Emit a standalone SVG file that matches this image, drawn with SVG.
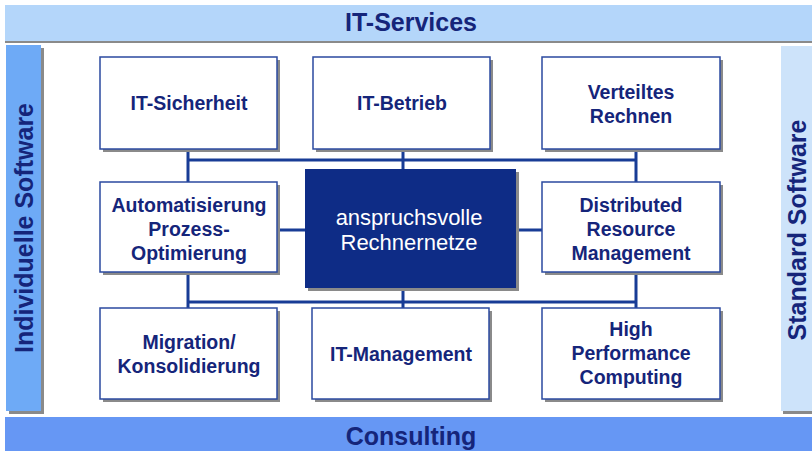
<svg xmlns="http://www.w3.org/2000/svg" width="812" height="451" viewBox="0 0 812 451">
<style>
.lbl{font-family:"Liberation Sans",Arial,sans-serif;font-weight:bold;font-size:19.5px;fill:#15257a;text-anchor:middle}
.band{font-family:"Liberation Sans",Arial,sans-serif;font-weight:bold;font-size:25px;fill:#15257a;text-anchor:middle}
.box{fill:#ffffff;stroke:#2b4aa0;stroke-width:1.5}
.sh{fill:#8a8a8a}
.con{stroke:#183c96;stroke-width:3;fill:none}
.ctr{font-family:"Liberation Sans",Arial,sans-serif;font-size:22px;fill:#ffffff;text-anchor:middle}
</style>
<rect x="0" y="0" width="812" height="451" fill="#ffffff"/>
<g id="it-services">
<rect class="sh" x="5" y="8" width="807" height="35"/>
<rect x="5" y="5" width="807" height="36" fill="#b4d6fa"/>
<text class="band" x="411" y="31">IT-Services</text>
</g>
<g id="individuelle-software">
<rect class="sh" x="9" y="48" width="35" height="366"/>
<rect x="6" y="45" width="35" height="366" fill="#6eaaf6"/>
<text class="band" transform="translate(33,228) rotate(-90)">Individuelle Software</text>
</g>
<g id="standard-software">
<rect class="sh" x="783" y="49" width="29" height="365"/>
<rect x="781" y="46" width="31" height="365" fill="#cde3fa"/>
<text class="band" transform="translate(806,230) rotate(-90)">Standard Software</text>
</g>
<g id="consulting">
<rect x="5" y="417" width="807" height="34" fill="#6697f4"/>
<text class="band" x="411" y="445">Consulting</text>
</g>
<g id="connectors">
<path class="con" d="M188,160 H636 M188,149 V182 M403,149 V169 M636,149 V182"/>
<path class="con" d="M188,302 H636 M188,272 V308 M403,288 V308 M636,272 V308"/>
<path class="con" d="M277,230 H305 M516,230 H542"/>
</g>
<g id="it-sicherheit">
<rect class="sh" x="103" y="60" width="177" height="92"/>
<rect class="box" x="100" y="57" width="177" height="92"/>
<text class="lbl" x="189" y="110">IT-Sicherheit</text>
</g>
<g id="it-betrieb">
<rect class="sh" x="316" y="60" width="177" height="92"/>
<rect class="box" x="313" y="57" width="177" height="92"/>
<text class="lbl" x="402" y="110">IT-Betrieb</text>
</g>
<g id="verteiltes-rechnen">
<rect class="sh" x="545" y="60" width="178" height="92"/>
<rect class="box" x="542" y="57" width="178" height="92"/>
<text class="lbl" x="631" y="99">Verteiltes</text>
<text class="lbl" x="631" y="123">Rechnen</text>
</g>
<g id="automatisierung">
<rect class="sh" x="103" y="185" width="177" height="90"/>
<rect class="box" x="100" y="182" width="177" height="90"/>
<text class="lbl" x="189" y="212">Automatisierung</text>
<text class="lbl" x="189" y="236">Prozess-</text>
<text class="lbl" x="189" y="260">Optimierung</text>
</g>
<g id="anspruchsvolle-rechnernetze">
<rect class="sh" x="308" y="172" width="211" height="119"/>
<rect x="305" y="169" width="211" height="119" fill="#0e2c86"/>
<text class="ctr" x="409" y="225">anspruchsvolle</text>
<text class="ctr" x="409" y="250">Rechnernetze</text>
</g>
<g id="distributed-resource-management">
<rect class="sh" x="545" y="185" width="178" height="90"/>
<rect class="box" x="542" y="182" width="178" height="90"/>
<text class="lbl" x="631" y="212">Distributed</text>
<text class="lbl" x="631" y="236">Resource</text>
<text class="lbl" x="631" y="260">Management</text>
</g>
<g id="migration-konsolidierung">
<rect class="sh" x="103" y="311" width="177" height="91"/>
<rect class="box" x="100" y="308" width="177" height="91"/>
<text class="lbl" x="189" y="349">Migration/</text>
<text class="lbl" x="189" y="373">Konsolidierung</text>
</g>
<g id="it-management">
<rect class="sh" x="315" y="311" width="177" height="91"/>
<rect class="box" x="312" y="308" width="177" height="91"/>
<text class="lbl" x="401" y="361">IT-Management</text>
</g>
<g id="high-performance-computing">
<rect class="sh" x="545" y="311" width="178" height="91"/>
<rect class="box" x="542" y="308" width="178" height="91"/>
<text class="lbl" x="631" y="336">High</text>
<text class="lbl" x="631" y="360">Performance</text>
<text class="lbl" x="631" y="384">Computing</text>
</g>
</svg>
